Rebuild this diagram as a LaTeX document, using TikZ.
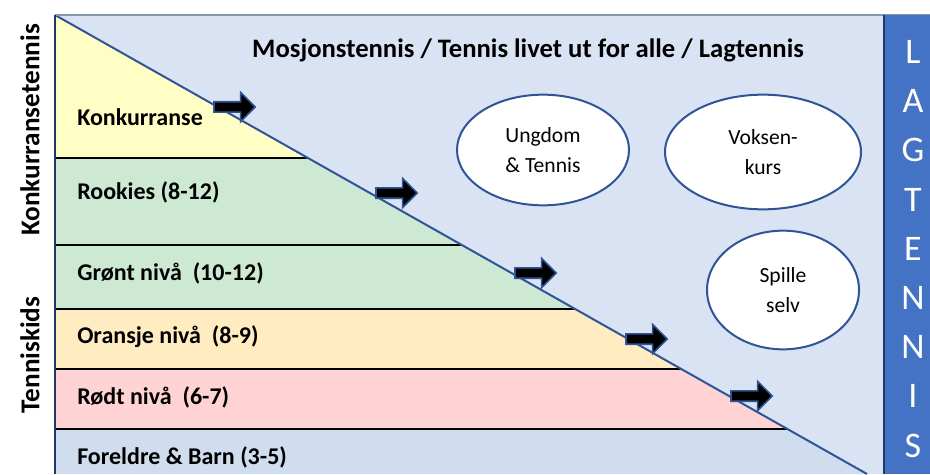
\documentclass[tikz,border=0pt]{standalone}
\usepackage{fontspec}
\setmainfont{Carlito}
\usetikzlibrary{shapes.arrows,shapes.geometric}
\definecolor{bgblue}{HTML}{DAE3F3}
\definecolor{yellowband}{HTML}{FFFFC5}
\definecolor{greenband}{HTML}{CDE9D4}
\definecolor{orangeband}{HTML}{FFECC0}
\definecolor{redband}{HTML}{FFD3D3}
\definecolor{blueband}{HTML}{D0DDEF}
\definecolor{diagblue}{HTML}{2F5597}
\definecolor{barblue}{HTML}{4472C4}
\definecolor{navy}{HTML}{1F3864}
\definecolor{topgray}{HTML}{8497B0}
\tikzset{
  bandlabel/.style={anchor=west, font=\bfseries\fontsize{18}{21}\selectfont, inner sep=0pt},
  sidelabel/.style={rotate=90, font=\bfseries\fontsize{20.4}{24}\selectfont, inner sep=0pt},
  bubble/.style={ellipse, draw=diagblue, line width=1.5pt, fill=white, inner sep=0pt, align=center, font=\fontsize{16.2}{23}\selectfont},
  blockarrow/.style={single arrow, draw=diagblue, fill=black, line width=1.3pt, minimum height=31pt, minimum width=14pt, inner sep=0pt, text height=0pt, text depth=0pt, text width=0pt, inner ysep=3.2pt, single arrow tip angle=90},
  barletter/.style={text=white, font=\fontsize{27}{30}\selectfont, inner sep=0pt},
  sep/.style={black, line width=1.6pt}
}
\begin{document}
\begin{tikzpicture}[x=0.75pt,y=-0.75pt]
\useasboundingbox (0,0) rectangle (930,474);
% background
\fill[bgblue] (55,15) rectangle (884,474);
% bands (diagonal x = 55 + (y-15)*1.769)
\fill[yellowband] (55,15) -- (308,158) -- (55,158) -- cycle;
\fill[greenband] (55,158) -- (308,158) -- (461.9,245) -- (55,245) -- cycle;
\fill[greenband] (55,245) -- (461.9,245) -- (575.1,309) -- (55,309) -- cycle;
\fill[orangeband] (55,309) -- (575.1,309) -- (681.2,369) -- (55,369) -- cycle;
\fill[redband] (55,369) -- (681.2,369) -- (787.4,429) -- (55,429) -- cycle;
\fill[blueband] (55,429) -- (787.4,429) -- (867,474) -- (55,474) -- cycle;
% separators
\draw[sep] (55,158) -- (308,158);
\draw[sep] (55,245) -- (461.9,245);
\draw[sep] (55,309) -- (575.1,309);
\draw[sep] (55,369) -- (681.2,369);
\draw[sep] (55,429) -- (787.4,429);
% diagonal
\draw[diagblue, line width=1.5pt] (55,15) -- (867,474);
% borders
\draw[topgray, line width=1pt] (55,15) -- (930,15);
\draw[navy, line width=1.5pt] (55,15) -- (55,474);
% right bar
\fill[barblue] (884,15) rectangle (930,474);
\draw[navy, line width=1.5pt] (884,15) -- (884,474);
\foreach \ch [count=\i] in {L,A,G,T,E,N,N,I,S} {
  \node[barletter] (bar\i) at (913, {52+(\i-1)*49.2}) {\ch};
}
% title
\node[font=\bfseries\fontsize{20}{24}\selectfont, inner sep=0pt] (title) at (528,50) {Mosjonstennis / Tennis livet ut for alle / Lagtennis};
% band labels
\node[bandlabel] (konk) at (77,117) {Konkurranse};
\node[bandlabel] (rook) at (77,192) {Rookies (8-12)};
\node[bandlabel] (gron) at (77,273) {Grønt nivå~ (10-12)};
\node[bandlabel] (oran) at (77,337) {Oransje nivå~ (8-9)};
\node[bandlabel] (rodt) at (77,397) {Rødt nivå~ (6-7)};
\node[bandlabel] (fore) at (77,457) {Foreldre \& Barn (3-5)};
% side labels
\node[sidelabel] (sideK) at (30,130) {Konkurransetennis};
\node[sidelabel] (sideT) at (30,355) {Tenniskids};
% bubbles
\node[bubble, minimum width=129pt, minimum height=83pt] (ungdom) at (543,150) {Ungdom\\\& Tennis};
\node[bubble, minimum width=147pt, minimum height=86pt] (voksen) at (763,152) {Voksen-\\kurs};
\node[bubble, minimum width=114pt, minimum height=89pt] (spille) at (783,290) {Spille\\selv};
% arrows
\node[blockarrow] (a1) at (232,107) {};
\node[blockarrow] (a2) at (394,193) {};
\node[blockarrow] (a3) at (533,273) {};
\node[blockarrow] (a4) at (644,339) {};
\node[blockarrow] (a5) at (749,396) {};
\end{tikzpicture}
\end{document}
